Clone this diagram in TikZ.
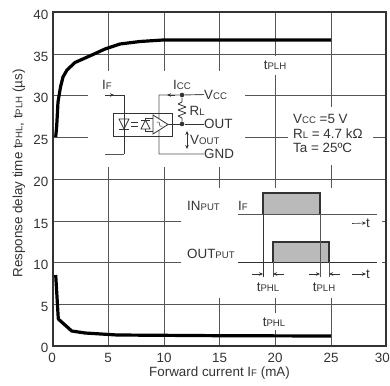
\documentclass[tikz,border=0pt]{standalone}
\usepackage{fontspec}
\setmainfont{Liberation Sans}
\usetikzlibrary{arrows.meta}
\definecolor{ink}{HTML}{333333}
\definecolor{wire}{HTML}{555555}
\newcommand{\sm}[1]{{\fontsize{9.6}{10}\selectfont #1}}
\tikzset{
  x=1pt,y=-1pt,
  gridline/.style={draw=wire,line width=0.8pt},
  frameline/.style={draw=ink,line width=1.8pt},
  curve/.style={draw=black,line width=3.2pt,line join=round},
  wireline/.style={draw=wire,line width=0.9pt},
  darkwire/.style={draw=ink,line width=0.8pt},
  sym/.style={draw=ink,line width=0.7pt},
  pulse/.style={draw=ink,line width=1.2pt,fill=black!27},
  arr/.style={draw=ink,line width=0.6pt,-{Stealth[length=4pt,width=3.5pt]}},
  dbl/.style={draw=ink,line width=0.6pt,{Stealth[length=4pt,width=3.5pt]}-{Stealth[length=4pt,width=3.5pt]}},
  dot/.style={circle,fill=ink,inner sep=0pt,minimum size=4.6pt},
  lbl/.style={text=ink,inner sep=0pt,font=\fontsize{13.4}{15}\selectfont},
  lleft/.style={lbl,anchor=west},
  tick/.style={lbl},
  axislabel/.style={lbl},
}
\begin{document}
\begin{tikzpicture}
\useasboundingbox (0,0) rectangle (390,385);
% grid: vertical
\foreach \x/\ya/\yb in {108/12/71,108/167/346,164/12/71,164/167/346,
  219.5/12/71,219.5/167/188,219.5/298/346,
  275/12/56,275/75/188,275/298/313,275/330/346,
  331/12/107,331/165/188,331/298/346}
  \draw[gridline] (\x,\ya) -- (\x,\yb);
% grid: horizontal
\foreach \y/\xa/\xb in {54.3/53/386,95.7/53/88,95.7/245/386,137.3/53/88,137.3/245/288,137.3/373/386,
  179.3/53/386,221/53/181,221/382/386,262.7/53/181,262.7/382/386,304.3/53/386}
  \draw[gridline] (\xa,\y) -- (\xb,\y);
\draw[frameline] (53,12) rectangle (386,346);
% curves
\draw[curve] (55.7,137) -- (56.7,126) -- (58,102) -- (60.5,87) -- (63,77) -- (67,70) -- (75,62.5) -- (93,54.5) -- (105,49) -- (120,44) -- (140,41.5) -- (163,40) -- (331,40);
\draw[curve] (55.7,275) -- (58.3,319) -- (71.7,331) -- (85,333) -- (117,335) -- (220,335.7) -- (331,336);
% tick labels
\foreach \v/\y in {40/15,35/57,30/98,25/140,20/182,15/224,10/265,5/307,0/348}
  \node[tick,anchor=east] (ty\v) at (48.5,\y) {\v};
\foreach \v/\x in {0/52,5/108,10/164,15/219.5,20/275,25/331}
  \node[tick] (tx\v) at (\x,358) {\v};
\node[tick,anchor=east] (tx30) at (390,358) {30};
\node[axislabel,rotate=90] (ylab) at (19,173.5) {Response delay time t\sm{PHL}, t\sm{PLH} (µs)};
\node[axislabel] (xlab) at (219.5,373) {Forward current I\sm{F} (mA)};
\node[lbl] (tplh) at (275,65) {t\sm{PLH}};
\node[lbl] (tphl) at (274,322) {t\sm{PHL}};
% conditions
\node[lleft] (c1) at (293,119) {V\sm{CC} =5 V};
\node[lleft] (c2) at (293,133.5) {R\sm{L} = 4.7 kΩ};
\node[lleft] (c3) at (293,148) {Ta = 25ºC};
% circuit
\coordinate (ifa) at (105,95);
\coordinate (ifb) at (124,95);
\coordinate (ifc) at (124,154);
\coordinate (ifd) at (105,154);
\coordinate (icb) at (159,95);
\coordinate (icc) at (159,154);
\draw[darkwire] (ifa) -- (ifb) -- (ifc);
\draw[wireline] (ifc) -- (ifd);
\draw[arr] (ifa) -- (114,95);
\node[lbl] (ifl) at (107,85) {I\sm{F}};
\node[lbl] (iccl) at (182,85) {I\sm{CC}};
\node[lleft] (vcc) at (204,94.5) {V\sm{CC}};
\node[lleft] (rl) at (189.5,111) {R\sm{L}};
\node[lleft] (out) at (204,124) {OUT};
\node[lleft] (vout) at (190,139.5) {V\sm{OUT}};
\node[lleft] (gnd) at (204,154) {GND};
\node[dot] (d1) at (182,95) {};
\node[dot] (d2) at (182,124) {};
\draw[wireline] (vcc.west) -- (d1) -- (icb) -- (icc) -- (gnd.west);
\draw[arr] (175,95) -- (167,95);
\draw[darkwire,line join=bevel] (d1) -- (182,102) -- (178,104) -- (186,107) -- (178,110) -- (186,113) -- (178,116) -- (182,118) -- (d2);
\draw[darkwire] (168,124) -- (d2) -- (out.west);
\draw[dbl] (187,131) -- (187,149);
% optocoupler box
\draw[draw=ink,line width=1pt] (113,113) rectangle (172,136);
% LED
\draw[sym] (119,119) -- (129,119) -- (124,129) -- cycle;
\draw[sym] (119,129) -- (129,129);
% equals
\draw[sym,line width=0.9pt] (131,122.5) -- (138,122.5) (131,126) -- (138,126);
% photodiode
\draw[sym] (141,129) -- (150,129) -- (145.5,120) -- cycle;
\draw[sym] (141,120) -- (150,120);
\draw[sym] (145.5,120) -- (145.5,118) -- (153,118) (145.5,129) -- (145.5,131) -- (153,131);
% amp
\draw[fill=white,draw=ink,line width=0.8pt] (153,115) -- (153,134) -- (168,124.5) -- cycle;
\draw[sym,line width=0.5pt] (156.5,122) -- (159,122) -- (160,126) -- (162.5,126);
% timing chart
\draw[pulse] (263,214) -- (263,193) -- (320,193) -- (320,214);
\draw[pulse] (273,262) -- (273,242) -- (329,242) -- (329,262);
\draw[wireline] (238,214) -- (377,214);
\draw[darkwire] (238,262) -- (377,262);
\draw[darkwire] (263,214) -- (263,277);
\draw[wireline] (320,214) -- (320,277);
\draw[wireline] (273,262) -- (273,277);
\draw[wireline] (329,262) -- (329,277);
\node[lleft] (inp) at (187,206) {IN\sm{PUT}};
\node[lleft] (outp) at (187,254) {OUT\sm{PUT}};
\node[lleft] (ifl2) at (238,206) {I\sm{F}};
\node[lleft] (t1) at (366,223) {t};
\node[lleft] (t2) at (366,274) {t};
\draw[arr] (352,223.5) -- (t1.west);
\draw[arr] (352,274) -- (t2.west);
\draw[arr] (252,274) -- (263,274);
\draw[arr] (284,274) -- (273,274);
\draw[arr] (309,274) -- (320,274);
\draw[arr] (340,274) -- (329,274);
\node[lbl] (tp1) at (268,287) {t\sm{PHL}};
\node[lbl] (tp2) at (324,287) {t\sm{PLH}};
\end{tikzpicture}
\end{document}
